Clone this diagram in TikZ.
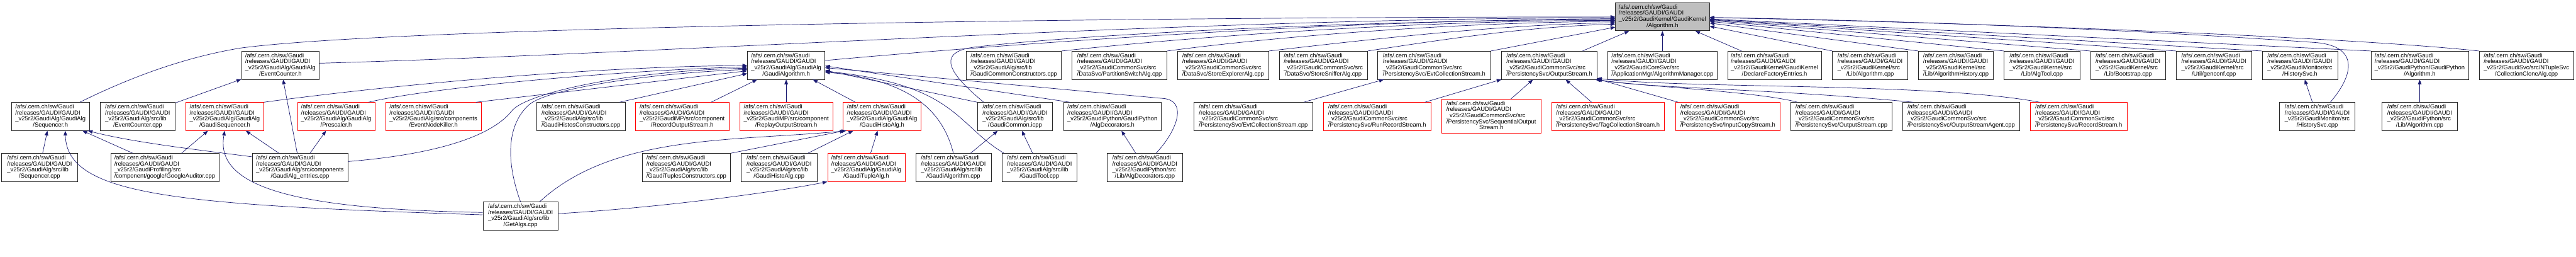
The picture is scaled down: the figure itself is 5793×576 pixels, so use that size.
\documentclass[tikz,border=0pt]{standalone}
\usepackage{fontspec}
\setmainfont{Liberation Sans}
\usetikzlibrary{arrows.meta}

\definecolor{edgeblue}{HTML}{191970}
\definecolor{rootgray}{HTML}{BFBFBF}

\newcommand{\gfile}[2]{\begin{tabular}{@{}l@{}}/afs/.cern.ch/sw/Gaudi\\/releases/GAUDI/GAUDI\\\_v25r2/#1\\\multicolumn{1}{@{}c@{}}{#2}\end{tabular}}

\begin{document}
\begin{tikzpicture}[
  x=0.75pt, y=-0.75pt,
  file/.style={draw=black!85, line width=0.75pt, inner xsep=4pt, inner ysep=3pt, minimum height=47.25pt, minimum width=#1, font=\fontsize{10}{10}\selectfont},
  redfile/.style={file=#1, draw=red},
  rootfile/.style={file=#1, fill=rootgray},
  dep/.style={->, draw=edgeblue, line width=0.75pt},
  >={Triangle[length=8pt,width=6pt]}
]
\useasboundingbox (0,0) rectangle (5793,576);

\node[rootfile=158.25pt] (root) at (3738.5,37.5) {\gfile{GaudiKernel/GaudiKernel}{/Algorithm.h}};

\node[file=131.25pt] (evch)   at (630.5,146.5)  {\gfile{GaudiAlg/GaudiAlg}{/EventCounter.h}};
\node[file=130.5pt]  (galgh)  at (1768,146.5)   {\gfile{GaudiAlg/GaudiAlg}{/GaudiAlgorithm.h}};
\node[file=160.5pt]  (gcc)    at (2280,146.5)   {\gfile{GaudiAlg/src/lib}{/GaudiCommonConstructors.cpp}};
\node[file=159.75pt] (psa)    at (2517.5,146.5) {\gfile{GaudiCommonSvc/src}{/DataSvc/PartitionSwitchAlg.cpp}};
\node[file=153.75pt] (sea)    at (2750.5,146.5) {\gfile{GaudiCommonSvc/src}{/DataSvc/StoreExplorerAlg.cpp}};
\node[file=148.5pt]  (ssa)    at (2976,146.5)   {\gfile{GaudiCommonSvc/src}{/DataSvc/StoreSnifferAlg.cpp}};
\node[file=190.5pt]  (ecsh)   at (3225,146.5)   {\gfile{GaudiCommonSvc/src}{/PersistencySvc/EvtCollectionStream.h}};
\node[file=160.5pt]  (osh)    at (3484,146.5)   {\gfile{GaudiCommonSvc/src}{/PersistencySvc/OutputStream.h}};
\node[file=185.25pt] (amgr)   at (3738.5,146.5) {\gfile{GaudiCoreSvc/src}{/ApplicationMgr/AlgorithmManager.cpp}};
\node[file=158.25pt] (dfe)    at (3990.5,146.5) {\gfile{GaudiKernel/GaudiKernel}{/DeclareFactoryEntries.h}};
\node[file=126.75pt] (algcpp) at (4205.5,146.5) {\gfile{GaudiKernel/src}{/Lib/Algorithm.cpp}};
\node[file=126.75pt] (ahist)  at (4398.5,146.5) {\gfile{GaudiKernel/src}{/Lib/AlgorithmHistory.cpp}};
\node[file=127.5pt]  (atool)  at (4592,146.5)   {\gfile{GaudiKernel/src}{/Lib/AlgTool.cpp}};
\node[file=126.75pt] (boot)   at (4785.5,146.5) {\gfile{GaudiKernel/src}{/Lib/Bootstrap.cpp}};
\node[file=126.75pt] (genc)   at (4978.5,146.5) {\gfile{GaudiKernel/src}{/Util/genconf.cpp}};
\node[file=127.5pt]  (hsvch)  at (5172,146.5)   {\gfile{GaudiMonitor/src}{/HistorySvc.h}};
\node[file=164.25pt] (pyalgh) at (5441.5,146.5) {\gfile{GaudiPython/GaudiPython}{/Algorithm.h}};
\node[file=159.75pt] (cca)    at (5681.5,146.5) {\gfile{GaudiSvc/src/NTupleSvc}{/CollectionCloneAlg.cpp}};

\node[file=131.25pt]    (seqh)     at (113.5,261.5)  {\gfile{GaudiAlg/GaudiAlg}{/Sequencer.h}};
\node[file=126.75pt]    (eccpp)    at (309.5,261.5)  {\gfile{GaudiAlg/src/lib}{/EventCounter.cpp}};
\node[redfile=131.25pt] (gseqh)    at (505.5,261.5)  {\gfile{GaudiAlg/GaudiAlg}{/GaudiSequencer.h}};
\node[redfile=130.5pt]  (presh)    at (756,261.5)    {\gfile{GaudiAlg/GaudiAlg}{/Prescaler.h}};
\node[redfile=161.25pt] (enkh)     at (974.5,261.5)  {\gfile{GaudiAlg/src/components}{/EventNodeKiller.h}};
\node[file=149.25pt]    (ghcc)     at (1306.5,261.5) {\gfile{GaudiAlg/src/lib}{/GaudiHistosConstructors.cpp}};
\node[redfile=157.5pt]  (rech)     at (1534,261.5)   {\gfile{GaudiMP/src/component}{/RecordOutputStream.h}};
\node[redfile=157.5pt]  (reph)     at (1768,261.5)   {\gfile{GaudiMP/src/component}{/ReplayOutputStream.h}};
\node[redfile=131.25pt] (ghah)     at (1983.5,261.5) {\gfile{GaudiAlg/GaudiAlg}{/GaudiHistoAlg.h}};
\node[file=126.75pt]    (gcicpp)   at (2282.5,261.5) {\gfile{GaudiAlg/src/lib}{/GaudiCommon.icpp}};
\node[file=164.25pt]    (adech)    at (2501.5,261.5) {\gfile{GaudiPython/GaudiPython}{/AlgDecorators.h}};
\node[file=200.25pt]    (ecscpp)   at (2818.5,261.5) {\gfile{GaudiCommonSvc/src}{/PersistencySvc/EvtCollectionStream.cpp}};
\node[redfile=181.5pt]  (rrsh)     at (3097,261.5)   {\gfile{GaudiCommonSvc/src}{/PersistencySvc/RunRecordStream.h}};
\node[redfile=167.25pt, minimum height=57pt] (sosh) at (3353.5,261)
  {\begin{tabular}{@{}l@{}}/afs/.cern.ch/sw/Gaudi\\/releases/GAUDI/GAUDI\\\_v25r2/GaudiCommonSvc/src\\/PersistencySvc/SequentialOutput\\\multicolumn{1}{@{}c@{}}{Stream.h}\end{tabular}};
\node[redfile=190.5pt]  (tcsh)     at (3616,261.5)   {\gfile{GaudiCommonSvc/src}{/PersistencySvc/TagCollectionStream.h}};
\node[redfile=176.25pt] (icsh)     at (3885.5,261.5) {\gfile{GaudiCommonSvc/src}{/PersistencySvc/InputCopyStream.h}};
\node[file=171pt]       (oscpp)    at (4141,261.5)   {\gfile{GaudiCommonSvc/src}{/PersistencySvc/OutputStream.cpp}};
\node[file=197.25pt]    (osacpp)   at (4410.5,261.5) {\gfile{GaudiCommonSvc/src}{/PersistencySvc/OutputStreamAgent.cpp}};
\node[redfile=162.75pt] (rsh)      at (4674.5,261.5) {\gfile{GaudiCommonSvc/src}{/PersistencySvc/RecordStream.h}};
\node[file=127.5pt]     (hsvccpp)  at (5211,261.5)   {\gfile{GaudiMonitor/src}{/HistorySvc.cpp}};
\node[file=126.75pt]    (pyalgcpp) at (5441.5,261.5) {\gfile{GaudiPython/src}{/Lib/Algorithm.cpp}};

\node[file=127.5pt]     (seqcpp)   at (89,376)     {\gfile{GaudiAlg/src/lib}{/Sequencer.cpp}};
\node[file=182.25pt]    (gaud)     at (370.5,376)  {\gfile{GaudiProfiling/src}{/component/google/GoogleAuditor.cpp}};
\node[file=161.25pt]    (entries)  at (674.5,376)  {\gfile{GaudiAlg/src/components}{/GaudiAlg\_entries.cpp}};
\node[file=149.25pt]    (gtcc)     at (1543.5,376) {\gfile{GaudiAlg/src/lib}{/GaudiTuplesConstructors.cpp}};
\node[file=127.5pt]     (ghacpp)   at (1752,376)   {\gfile{GaudiAlg/src/lib}{/GaudiHistoAlg.cpp}};
\node[redfile=130.5pt]  (gtah)     at (1948,376)   {\gfile{GaudiAlg/GaudiAlg}{/GaudiTupleAlg.h}};
\node[file=127.5pt]     (galgcpp)  at (2144,376)   {\gfile{GaudiAlg/src/lib}{/GaudiAlgorithm.cpp}};
\node[file=126.75pt]    (gtoolcpp) at (2337.5,376) {\gfile{GaudiAlg/src/lib}{/GaudiTool.cpp}};
\node[file=126.75pt]    (adeccpp)  at (2574.5,376) {\gfile{GaudiPython/src}{/Lib/AlgDecorators.cpp}};

\node[file=126.75pt]    (getalgs)  at (1170.5,485) {\gfile{GaudiAlg/src/lib}{/GetAlgs.cpp}};

\coordinate (seqbend) at (540,108);
\coordinate (icbend)  at (2190,106);
\coordinate (entbend) at (1150,250);
\coordinate (getbend) at (1190,235);
\coordinate (adbend)  at (2615,221);
\coordinate (hsbend)  at (5200,95);

% into Algorithm.h
\draw[dep] ([xshift=-16.5pt]seqh.north east) .. controls (300,170) and (420,128) .. (seqbend) .. controls (900,60) and (2500,38) .. ([yshift=-0.4pt]root.west);
\draw[dep] ([yshift=3.4pt]evch.east) .. controls (1500,120) and (2700,40) .. ([yshift=-1.9pt]root.west);
\draw[dep] ([yshift=8pt]galgh.east) .. controls (2250,100) and (3000,45) .. ([yshift=-3.4pt]root.west);
\draw[dep] ([xshift=11pt]gcicpp.north west) .. controls (2140,170) and (2100,118) .. (icbend) .. controls (2450,75) and (3100,45) .. ([yshift=-4.9pt]root.west);
\draw[dep] (gcc.north east) .. controls (2800,70) and (3300,45) .. ([yshift=-6.4pt]root.west);
\draw[dep] (psa.north east) .. controls (2900,78) and (3300,50) .. ([yshift=-7.9pt]root.west);
\draw[dep] (sea.north east) .. controls (3150,80) and (3400,55) .. ([yshift=-10.1pt]root.west);
\draw[dep] (ssa.north east) .. controls (3300,80) and (3450,60) .. ([yshift=-12.4pt]root.west);
\draw[dep] (ecsh.north east) -- ([yshift=-17.6pt]root.west);
\draw[dep] (osh) -- (root);
\draw[dep] (amgr) -- (root);
\draw[dep] (dfe) -- (root);
\draw[dep] (algcpp.north west) -- (root);
\draw[dep] (ahist.north west) -- (root);
\draw[dep] (atool.north west) -- (root);
\draw[dep] (boot.north west) -- (root);
\draw[dep] (genc.north west) -- (root);
\draw[dep] (hsvch.north west) -- (root);
\draw[dep] (pyalgh.north west) -- (root);
\draw[dep] (cca.north west) .. controls (5300,85) and (4500,52) .. (root);
\draw[dep] ([xshift=-42pt]hsvccpp.north east) .. controls (5300,160) and (5300,100) .. (hsbend) .. controls (4700,60) and (4200,45) .. (root);

% into Sequencer.h and GaudiSequencer.h
\draw[dep] (seqcpp) -- (seqh);
\draw[dep] (gaud) -- (seqh);
\draw[dep] ([yshift=-6pt]entries.north west) .. controls (450,337) and (300,320) .. ([xshift=-3pt]seqh.south east);
\draw[dep] ([yshift=2pt]getalgs.west) .. controls (400,460) and (150,440) .. ([xshift=25pt]seqh.south);
\draw[dep] (gaud) -- (gseqh);
\draw[dep] (entries) -- (gseqh);
\draw[dep] ([yshift=6pt]getalgs.west) .. controls (700,470) and (480,430) .. (gseqh.south);
\draw[dep] (eccpp) -- (evch);
\draw[dep] (entries) -- (evch);
\draw[dep] (entries) -- (presh);

% into GaudiAlgorithm.h
\draw[dep] (gseqh.north east) .. controls (850,195) and (1300,150) .. ([yshift=-0.4pt]galgh.west);
\draw[dep] ([xshift=-11pt]presh.north east) .. controls (950,200) and (1350,160) .. ([yshift=-2.6pt]galgh.west);
\draw[dep] ([yshift=10pt]entries.east) .. controls (1000,345) and (1110,300) .. (entbend) .. controls (1180,210) and (1400,160) .. ([yshift=-4.9pt]galgh.west);
\draw[dep] (getalgs.north) .. controls (1130,340) and (1150,270) .. (getbend) .. controls (1230,200) and (1450,165) .. ([yshift=-7.1pt]galgh.west);
\draw[dep] ([xshift=-9pt]enkh.north east) -- ([yshift=-9.4pt]galgh.west);
\draw[dep] ([xshift=-10pt]ghcc.north east) -- ([yshift=-13.9pt]galgh.west);
\draw[dep] (rech) -- (galgh);
\draw[dep] (reph) -- (galgh);
\draw[dep] (ghah) -- (galgh);
\draw[dep] ([xshift=11pt]adech.north west) -- ([yshift=-1.1pt]galgh.east);
\draw[dep] ([xshift=19pt]adeccpp.north) .. controls (2650,290) and (2670,225) .. (adbend) -- ([yshift=-4.1pt]galgh.east);
\draw[dep] (gcicpp.north west) -- ([yshift=-8.6pt]galgh.east);
\draw[dep] (galgcpp.north) .. controls (2120,250) and (2050,180) .. ([yshift=-11.6pt]galgh.east);
\draw[dep] ([xshift=4pt]gtoolcpp.north west) .. controls (2150,280) and (2150,190) .. ([yshift=-10.1pt]galgh.east);

% GaudiHistoAlg.h, GaudiTupleAlg.h, GaudiCommon.icpp, AlgDecorators.h
\draw[dep] (gtcc.north east) -- ([xshift=3pt]ghah.south west);
\draw[dep] (ghacpp) -- (ghah);
\draw[dep] (gtah) -- (ghah);
\draw[dep] ([xshift=-31.5pt]getalgs.north east) .. controls (1380,300) and (1650,318) .. ([xshift=6pt]ghah.south west);
\draw[dep] ([yshift=4pt]getalgs.east) .. controls (1500,465) and (1750,430) .. (gtah.south west);
\draw[dep] (galgcpp) -- (gcicpp);
\draw[dep] (gtoolcpp) -- (gcicpp);
\draw[dep] (adeccpp) -- (adech);

% persistency streams
\draw[dep] (ecscpp) -- (ecsh);
\draw[dep] (rrsh) -- (osh);
\draw[dep] (sosh) -- (osh);
\draw[dep] (tcsh) -- (osh);
\draw[dep] (icsh) -- (osh);
\draw[dep] ([xshift=12pt]oscpp.north west) .. controls (3950,205) and (3700,195) .. ([xshift=-3pt]osh.south east);
\draw[dep] ([xshift=18pt]osacpp.north west) .. controls (4000,200) and (3700,198) .. (osh.south east);
\draw[dep] ([xshift=16pt]rsh.north west) .. controls (4350,185) and (3800,200) .. ([yshift=2pt]osh.south east);

\draw[dep] (hsvccpp) -- (hsvch);
\draw[dep] (pyalgcpp) -- (pyalgh);
\end{tikzpicture}
\end{document}
